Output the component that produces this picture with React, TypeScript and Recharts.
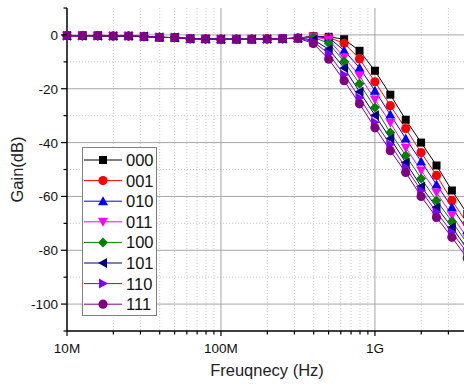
import React from 'react';
import { LineChart, Line, XAxis, YAxis, CartesianGrid, Legend } from 'recharts';

// frequency points in MHz, ten per decade
const FREQ_MHZ = [
  10, 12.59, 15.85, 19.95, 25.12, 31.62, 39.81, 50.12, 63.1, 79.43,
  100, 125.9, 158.5, 199.5, 251.2, 316.2, 398.1, 501.2, 631, 794.3,
  1000, 1259, 1585, 1995, 2512, 3162, 3981,
];

// pass band, identical for every code
const FLAT = [-0.3, -0.3, -0.3, -0.4, -0.4, -0.6, -0.9, -1.0, -1.4, -1.5, -1.6, -1.6, -1.6, -1.5, -1.4, -1.2];

// roll-off from 398M upward, one row per control code
const G000 = [...FLAT, -0.5, -0.7, -1.6, -5.9, -13.3, -22.2, -31.5, -40.0, -48.5, -57.8, -66.5];
const G001 = [...FLAT, -0.5, -1.0, -3.1, -8.9, -17.4, -26.3, -34.8, -43.7, -52.2, -61.5, -70.0];
const G010 = [...FLAT, -0.6, -1.0, -5.8, -12.2, -20.7, -29.6, -38.5, -47.0, -55.6, -64.0, -72.5];
const G011 = [...FLAT, -0.7, -1.8, -8.3, -15.2, -24.0, -32.6, -41.9, -50.4, -58.5, -67.0, -75.5];
const G100 = [...FLAT, -0.9, -3.1, -9.9, -18.1, -27.0, -36.3, -44.8, -53.3, -61.5, -69.3, -77.5];
const G101 = [...FLAT, -1.8, -5.3, -12.3, -21.1, -29.8, -38.5, -47.4, -56.3, -64.0, -71.5, -79.5];
const G110 = [...FLAT, -2.5, -7.0, -14.8, -23.3, -32.4, -40.7, -49.3, -57.8, -65.9, -73.3, -81.0];
const G111 = [...FLAT, -3.2, -9.0, -17.0, -25.6, -34.5, -43.0, -51.1, -60.0, -67.8, -75.2, -83.0];

const CODES = ['000', '001', '010', '011', '100', '101', '110', '111'];
const GAINS = [G000, G001, G010, G011, G100, G101, G110, G111];
const COLORS = ['#000000', '#FF0000', '#0000FF', '#FF00FF', '#008000', '#000080', '#8000FF', '#800080'];
const SHAPES = ['square', 'circle', 'up', 'down', 'diamond', 'left', 'right', 'circle'];

const X_TICKS = [10, 20, 30, 40, 50, 60, 70, 80, 90, 100, 200, 300, 400, 500, 600, 700, 800, 900, 1000, 2000, 3000, 4000];
const X_LABELS: Record<number, string> = { 10: '10M', 100: '100M', 1000: '1G' };
const X_MAJOR = [100, 1000];
const X_MINOR = [20, 30, 40, 50, 60, 70, 80, 90, 200, 300, 400, 500, 600, 700, 800, 900, 2000, 3000, 4000];

const Y_TICKS = [-110, -100, -90, -80, -70, -60, -50, -40, -30, -20, -10, 0, 10];
const Y_MAJOR = [-100, -80, -60, -40, -20, 0];
const Y_MINOR = [-90, -70, -50, -30, -10];

const data = FREQ_MHZ.map((f, i) => {
  const row: Record<string, number> = { f };
  CODES.forEach((c, j) => (row[c] = GAINS[j][i]));
  return row;
});

const FONT = '"Liberation Sans", Arial, sans-serif';

const Marker = ({ kind, cx, cy, color }: { kind: string; cx: number; cy: number; color: string }) => {
  const s = 5;
  const b = 4;
  switch (kind) {
    case 'square':
      return <rect x={cx - 4} y={cy - 4} width={8} height={8} fill={color} />;
    case 'circle':
      return <circle cx={cx} cy={cy} r={4.6} fill={color} />;
    case 'up':
      return <polygon points={`${cx},${cy - s} ${cx + s},${cy + b} ${cx - s},${cy + b}`} fill={color} />;
    case 'down':
      return <polygon points={`${cx},${cy + s} ${cx + s},${cy - b} ${cx - s},${cy - b}`} fill={color} />;
    case 'diamond':
      return <polygon points={`${cx},${cy - s} ${cx + s},${cy} ${cx},${cy + s} ${cx - s},${cy}`} fill={color} />;
    case 'left':
      return <polygon points={`${cx - s},${cy} ${cx + b},${cy - s} ${cx + b},${cy + s}`} fill={color} />;
    default:
      return <polygon points={`${cx + s},${cy} ${cx - b},${cy - s} ${cx - b},${cy + s}`} fill={color} />;
  }
};

const XTick = (props: any) => {
  const { x, y, payload } = props;
  const label = X_LABELS[payload.value];
  return (
    <g>
      <line x1={x} x2={x} y1={y} y2={y + (label || X_MAJOR.includes(payload.value) ? 5 : 3.5)} stroke="#000" strokeWidth={1.2} />
      {label && (
        <text x={x} y={y + 22} textAnchor="middle" fontSize={13.5} fontFamily={FONT} fill="#111">
          {label}
        </text>
      )}
    </g>
  );
};

const YTick = (props: any) => {
  const { x, y, payload } = props;
  const major = Y_MAJOR.includes(payload.value);
  return (
    <g>
      <line x1={x - (major ? 6 : 3.5)} x2={x} y1={y} y2={y} stroke="#000" strokeWidth={1.2} />
      {major && (
        <text x={x - 9} y={y + 5} textAnchor="end" fontSize={13.5} fontFamily={FONT} fill="#111">
          {payload.value}
        </text>
      )}
    </g>
  );
};

const GainLabel = (props: any) => {
  const { viewBox } = props;
  const cx = viewBox.x + 17;
  const cy = viewBox.y + viewBox.height / 2;
  return (
    <text x={cx} y={cy} transform={`rotate(-90 ${cx} ${cy})`} textAnchor="middle" dominantBaseline="central"
      fontSize={16.5} fontFamily={FONT} fill="#222">
      Gain(dB)
    </text>
  );
};

const LegendBox = (props: any) => {
  const items = props.payload || [];
  return (
    <svg width={75} height={169} style={{ display: 'block' }}>
      <rect x={0.5} y={0.5} width={74} height={168} fill="#fff" stroke="#808080" />
      {items.map((it: any, i: number) => {
        const k = CODES.indexOf(it.dataKey);
        const cy = 13 + i * 20.6;
        return (
          <g key={it.dataKey}>
            <line x1={2} x2={40} y1={cy} y2={cy} stroke={COLORS[k]} strokeWidth={1} />
            <Marker kind={SHAPES[k]} cx={21} cy={cy} color={COLORS[k]} />
            <text x={44} y={cy + 6} fontSize={16.5} fontFamily={FONT} fill="#111">{it.value}</text>
          </g>
        );
      })}
    </svg>
  );
};

export default function App() {
  return (
    <div style={{ position: 'absolute', left: 0, top: 0, width: 464, height: 387, overflow: 'hidden', background: '#fff' }}>
      <LineChart width={475} height={387} data={data} margin={{ top: 8, right: 0, bottom: 0, left: 0 }}>
        <CartesianGrid horizontalValues={Y_MINOR} verticalValues={X_MINOR} stroke="#c8c8c8" strokeDasharray="1 2" />
        <CartesianGrid horizontalValues={Y_MAJOR} verticalValues={X_MAJOR} stroke="#a6a6a6" />
        <XAxis
          dataKey="f"
          type="number"
          scale="log"
          domain={[10, 4467]}
          ticks={X_TICKS}
          interval={0}
          height={56}
          tickSize={0}
          tickMargin={0}
          tick={<XTick />}
          axisLine={{ stroke: '#000', strokeWidth: 1.5 }}
          label={{ value: 'Freuqnecy (Hz)', position: 'insideBottom', offset: 11, dx: -4, fontSize: 16.5, fontFamily: FONT, fill: '#222' }}
        />
        <YAxis
          type="number"
          domain={[-110, 10]}
          ticks={Y_TICKS}
          interval={0}
          width={67}
          tickSize={0}
          tickMargin={0}
          tick={<YTick />}
          axisLine={{ stroke: '#000', strokeWidth: 1.5 }}
          label={<GainLabel />}
        />
        <Legend
          layout="vertical"
          align="center"
          verticalAlign="middle"
          content={<LegendBox />}
          wrapperStyle={{ left: 82, top: 147, width: 75, height: 169 }}
        />
        {CODES.map((c, k) => (
          <Line
            key={c}
            dataKey={c}
            name={c}
            stroke={COLORS[k]}
            strokeWidth={1}
            isAnimationActive={false}
            dot={(p: any) => <Marker key={`${c}-${p.index}`} kind={SHAPES[k]} cx={p.cx} cy={p.cy} color={COLORS[k]} />}
            activeDot={false}
          />
        ))}
      </LineChart>
    </div>
  );
}
